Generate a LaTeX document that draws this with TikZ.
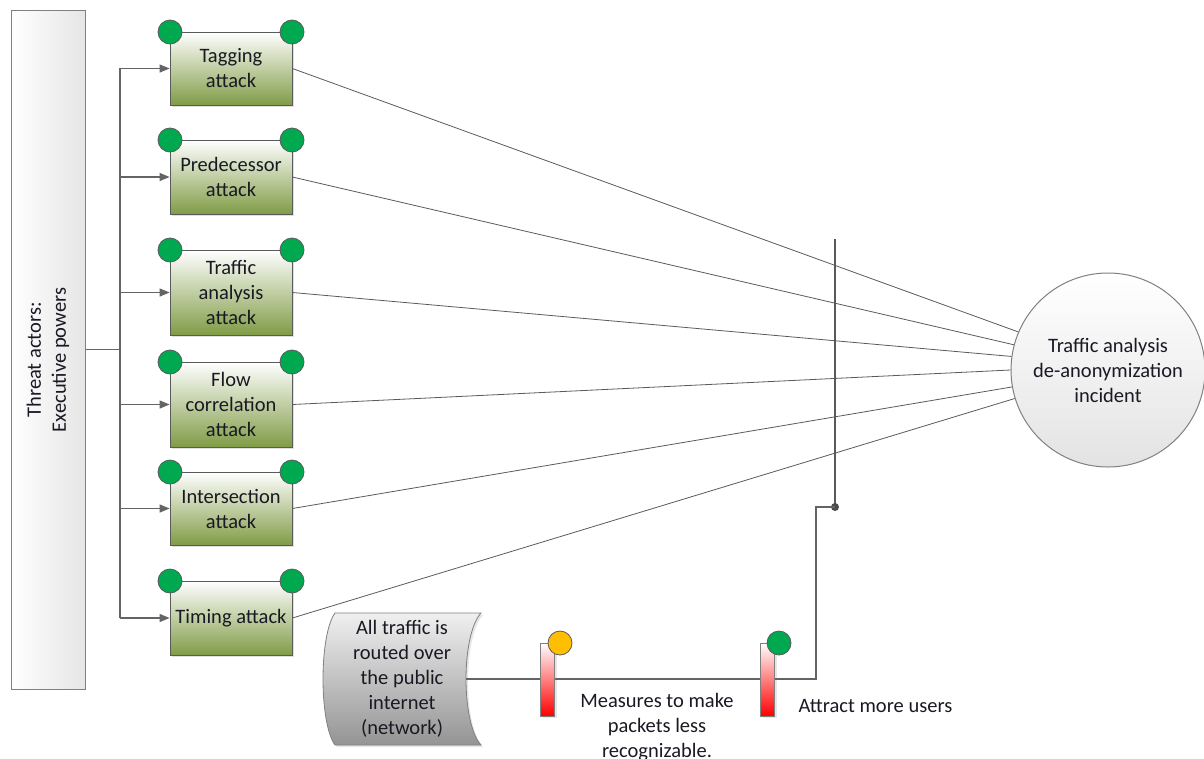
\documentclass[tikz,border=0pt]{standalone}
\usepackage{fontspec}
\setmainfont{Carlito}
\usetikzlibrary{arrows.meta,shadows}
\definecolor{okgreen}{RGB}{0,168,80}
\definecolor{warnorange}{RGB}{255,190,0}
\definecolor{olivebot}{RGB}{128,156,70}
\definecolor{edgegray}{RGB}{90,90,90}
\definecolor{linegray}{RGB}{100,100,100}
\definecolor{txt}{RGB}{25,25,35}
\tikzset{
  every node/.style={font=\fontsize{20.5}{25}\selectfont, text=txt},
  attackbox/.style={draw=edgegray, line width=0.8pt, minimum width=122pt,
    align=center, inner sep=1pt, top color=white, bottom color=olivebot,
    drop shadow={opacity=0.25, shadow xshift=2pt, shadow yshift=-2pt}},
  lamp/.style={circle, draw=edgegray, line width=0.8pt, minimum size=24pt, inner sep=0pt},
  bus/.style={draw=linegray, line width=1.2pt},
  feed/.style={bus, -{Triangle[length=10pt,width=8pt]}},
  ray/.style={draw=edgegray, line width=0.8pt},
  barrier/.style={draw=gray, line width=0.8pt, minimum width=14pt, minimum height=73pt,
    inner sep=0pt, top color=white, bottom color=red,
    drop shadow={opacity=0.2, shadow xshift=2pt, shadow yshift=-2pt}},
}
% attack box with its two status lamps on the top edge
\newcommand\attackbox[4]{%
  \node[attackbox, minimum height=#3-#2] (#1) at (231,{(#2+#3)/2}) {#4};
  \node[lamp, fill=okgreen] (#1-l) at (170,#2) {};
  \node[lamp, fill=okgreen] (#1-r) at (292,#2) {};
}
\begin{document}
\begin{tikzpicture}[x=1pt,y=-1pt]
\useasboundingbox (0,0) rectangle (1204,758);

% threat actors
\node[draw=gray, line width=1pt, minimum width=74pt, minimum height=679pt,
  left color=white, right color=black!10, inner sep=0pt] (threat) at (48,349.5) {};
\node[rotate=90, align=center] (threatlbl) at (48,360) {Threat actors:\\Executive powers};

% attacks
\attackbox{tag}{32}{105}{Tagging\\attack}
\attackbox{pred}{140}{214}{Predecessor\\attack}
\attackbox{tra}{250}{335}{Traffic\\analysis\\attack}
\attackbox{flow}{362}{447}{Flow\\correlation\\attack}
\attackbox{inter}{472}{545}{Intersection\\attack}
\attackbox{timing}{581}{655}{Timing attack}

% incident
\node[circle, draw=gray, line width=1pt, minimum size=194pt, inner sep=0pt,
  top color=white, bottom color=black!11, align=center] (inc) at (1108,370)
  {\raisebox{-11pt}{\parbox{170pt}{\centering Traffic analysis\\de-anonymization\\incident}}};

% bus from the threat actors to every attack
\coordinate (busTop) at (120,68);
\coordinate (busBot) at (120,618);
\draw[bus] (threat.east) -- (threat.east -| busTop);
\draw[bus] (busTop) -- (busBot);
\draw[feed] (busTop |- tag.west) -- (tag.west);
\draw[feed] (busTop |- pred.west) -- (pred.west);
\draw[feed] (busTop |- tra.west) -- (tra.west);
\draw[feed] (busTop |- flow.west) -- (flow.west);
\draw[feed] (busTop |- inter.west) -- (inter.west);
\draw[feed] (busTop |- timing.west) -- (timing.west);

% attacks leading to the incident
\draw[ray] (tag.east) -- (inc.157);
\draw[ray] (pred.east) -- (inc.165);
\draw[ray] (tra.east) -- (inc.172.5);
\draw[ray] (flow.east) -- (inc.180);
\draw[ray] (inter.east) -- (inc.190);
\draw[ray] (timing.east) -- (inc.197);

% control bar
\coordinate (barTop) at (835,239);
\coordinate (barBot) at (835,507);
\draw[draw=black!65, line width=2.6pt] (barTop) -- (barBot);
\fill[black!70] (barBot) circle (4pt);

% stored-data shape
\shade[top color=black!6, bottom color=black!42, draw=gray, line width=0.8pt,
  drop shadow={opacity=0.2, shadow xshift=2pt, shadow yshift=-2pt}]
  (335,613) -- (481,613) .. controls (461,635) and (461,723) .. (481,745)
  -- (335,745) .. controls (319,723) and (319,635) .. (335,613) -- cycle;
\node[align=center] (store) at (402,679) {All traffic is\\routed over\\the public\\internet\\(network)};
\coordinate (storeR) at (466,679);

% measures
\coordinate (bend) at (816,507);
\draw[bus] (storeR) -- (779,679) -| (bend) -- (barBot);
\node[barrier] (bar1) at (547.5,679.5) {};
\node[lamp, fill=warnorange] (bar1-lamp) at (560,643) {};
\node[barrier] (bar2) at (767.5,679.5) {};
\node[lamp, fill=okgreen] (bar2-lamp) at (779,643) {};
\node[align=center] (m1) at (657,727) {Measures to make\\packets less\\recognizable.};
\node[anchor=west] (m2) at (795,706) {Attract more users};
\end{tikzpicture}
\end{document}
